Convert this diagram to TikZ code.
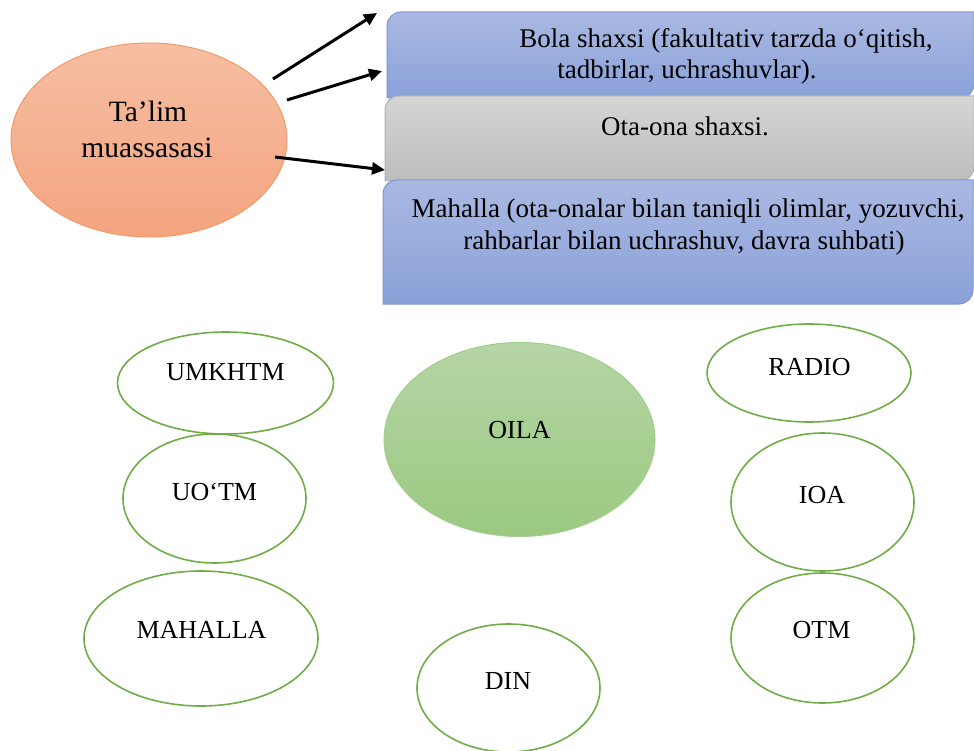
\documentclass[tikz,border=0pt]{standalone}
\usepackage{fontspec}
\setmainfont{Liberation Serif}
\usetikzlibrary{shapes.geometric,arrows.meta}
\definecolor{blueTop}{HTML}{AAB9E2}
\definecolor{blueBot}{HTML}{8AA1D9}
\definecolor{blueLine}{HTML}{7A95D4}
\definecolor{grayTop}{HTML}{D5D5D5}
\definecolor{grayBot}{HTML}{BDBDBD}
\definecolor{grayLine}{HTML}{B0B0B0}
\definecolor{orTop}{HTML}{F6BEA3}
\definecolor{orBot}{HTML}{F4A47F}
\definecolor{orLine}{HTML}{F09A68}
\definecolor{grTop}{HTML}{B5D5A5}
\definecolor{grBot}{HTML}{9BC981}
\definecolor{grLine}{HTML}{A3CD8C}
\definecolor{ringLine}{HTML}{70AD47}
\tikzset{
  bluebox/.style={top color=blueTop, bottom color=blueBot, draw=blueLine, line width=1pt},
  graybox/.style={top color=grayTop, bottom color=grayBot, draw=grayLine, line width=1pt},
  ring/.style={ellipse, draw=ringLine, line width=1.6pt, fill=white, inner sep=0pt},
  boxtext/.style={inner sep=0pt, anchor=base, font=\fontsize{27}{31}\selectfont},
  captext/.style={inner sep=0pt, anchor=center, font=\fontsize{26}{30}\selectfont},
  bigtext/.style={inner sep=0pt, anchor=base, font=\fontsize{29.5}{36}\selectfont},
  arr/.style={line width=3pt, -{Triangle[length=13pt,width=12pt]}},
}
\begin{document}
\begin{tikzpicture}[x=1pt,y=-1pt]
\useasboundingbox (0,0) rectangle (974,751);
% boxes
\path[bluebox] (387,98) [rounded corners=14pt] -- (387,12) [sharp corners] -- (974,12) [rounded corners=14pt] -- (974,98) [sharp corners] -- cycle;
\path[graybox] (385,181) [rounded corners=14pt] -- (385,96) [sharp corners] -- (974,96) [rounded corners=14pt] -- (974,181) [sharp corners] -- cycle;
\path[bluebox] (383,304) [rounded corners=14pt] -- (383,180) [sharp corners] -- (973,180) [rounded corners=14pt] -- (973,304) [sharp corners] -- cycle;
\node[boxtext] (b1a) at (726,48) {Bola shaxsi (fakultativ tarzda o‘qitish,};
\node[boxtext] (b1b) at (687,79) {tadbirlar, uchrashuvlar).};
\node[boxtext] (b2) at (685,136) {Ota-ona shaxsi.};
\node[boxtext] (b3a) at (688,218) {Mahalla (ota-onalar bilan taniqli olimlar, yozuvchi,};
\node[boxtext] (b3b) at (684,250) {rahbarlar bilan uchrashuv, davra suhbati)};
% Ta'lim muassasasi
\node[ellipse, top color=orTop, bottom color=orBot, draw=orLine, line width=1pt, inner sep=0pt, minimum width=276pt, minimum height=194pt] (talim) at (149,140) {};
\node[bigtext] (t1) at (148,122) {Ta’lim};
\node[bigtext] (t2) at (147,158) {muassasasi};
% arrows
\coordinate (s1) at (273,79);
\coordinate (e1) at (377,13);
\coordinate (s2) at (287,100);
\coordinate (e2) at (382,71);
\coordinate (s3) at (275,157);
\coordinate (e3) at (385,170);
\draw[arr] (s1) -- (e1);
\draw[arr] (s2) -- (e2);
\draw[arr] (s3) -- (e3);
% lower ellipses
\node[ring, minimum width=216pt, minimum height=102pt] (umk) at (225.5,383) {};
\node[captext] (umkt) at (225.5,372) {UMKHTM};
\node[ring, minimum width=183pt, minimum height=129pt] (uot) at (214.5,498.5) {};
\node[captext] (uott) at (214.5,492) {UO‘TM};
\node[ring, minimum width=234pt, minimum height=135pt] (mah) at (201,638.5) {};
\node[captext] (maht) at (201.5,630) {MAHALLA};
\node[ellipse, top color=grTop, bottom color=grBot, draw=grLine, line width=1pt, inner sep=0pt, minimum width=271pt, minimum height=194pt] (oila) at (519.5,439.5) {};
\node[captext] (oilat) at (519.5,430.5) {OILA};
\node[ring, minimum width=183pt, minimum height=128pt] (din) at (508.5,688) {};
\node[captext] (dint) at (508,681) {DIN};
\node[ring, minimum width=204pt, minimum height=98pt] (rad) at (809,373) {};
\node[captext] (radt) at (809.5,367) {RADIO};
\node[ring, minimum width=183pt, minimum height=138pt] (ioa) at (822.5,502) {};
\node[captext] (ioat) at (822,495) {IOA};
\node[ring, minimum width=183pt, minimum height=130pt] (otm) at (822.5,638) {};
\node[captext] (otmt) at (821.5,630) {OTM};
\end{tikzpicture}
\end{document}
